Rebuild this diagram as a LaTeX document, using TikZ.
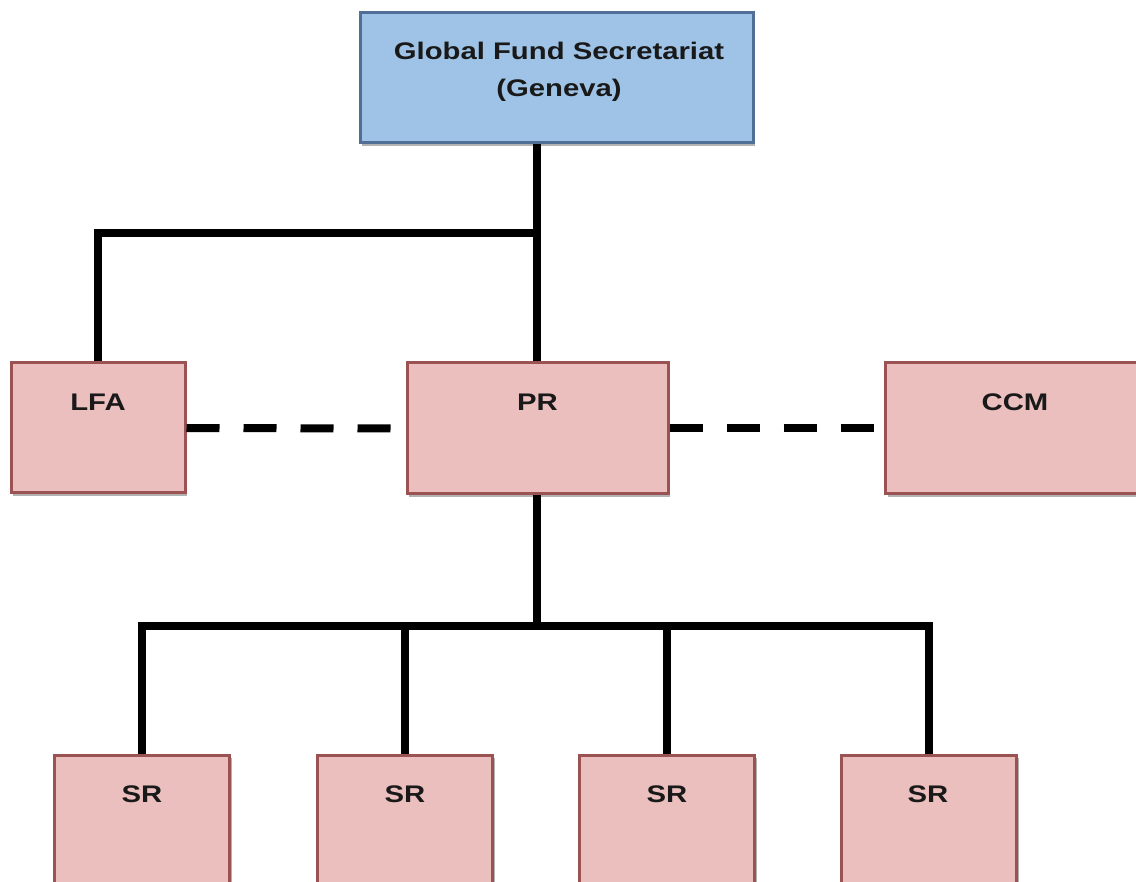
\documentclass[tikz,border=0pt]{standalone}
\usepackage{fontspec}
\setmainfont{Liberation Sans}
\usetikzlibrary{shadows}
\definecolor{pinkfill}{RGB}{236,191,191}
\definecolor{pinkdraw}{RGB}{155,82,82}
\definecolor{bluefill}{RGB}{158,195,230}
\definecolor{bluedraw}{RGB}{80,110,150}
\newcommand{\wide}[1]{\scalebox{1.22}[1]{#1}}
\tikzset{
  boxshadow/.style={drop shadow={shadow xshift=2pt,shadow yshift=-3pt,opacity=0.3,fill=black}},
  pinkbox/.style={draw=pinkdraw,fill=pinkfill,line width=3pt,rectangle,inner sep=0pt,boxshadow},
  bluebox/.style={draw=bluedraw,fill=bluefill,line width=3pt,rectangle,inner sep=0pt,boxshadow},
  lbl/.style={font=\fontsize{24}{37}\selectfont\bfseries,text=black!90,align=center,inner sep=0pt,anchor=base},
  conn/.style={line width=8pt,line join=miter,draw=black},
  dconn/.style={line width=8pt,draw=black,dash pattern=on 33pt off 24pt}
}
\begin{document}
\begin{tikzpicture}[x=1pt,y=-1pt]
\useasboundingbox (0,0) rectangle (1136,882);
\clip (0,0) rectangle (1136,882);
\fill[white] (0,0) rectangle (1136,882);
% boxes
\node[bluebox,minimum width=393pt,minimum height=130pt] (top) at (556.5,78) {};
\node[pinkbox,minimum width=174pt,minimum height=130pt] (LFA) at (98,428) {};
\node[pinkbox,minimum width=261pt,minimum height=131pt] (PR) at (537.5,428.5) {};
\node[pinkbox,minimum width=261pt,minimum height=131pt] (CCM) at (1016,428.5) {};
\node[pinkbox,minimum width=175pt,minimum height=130pt] (sr1) at (142,820) {};
\node[pinkbox,minimum width=175pt,minimum height=130pt] (sr2) at (405,820) {};
\node[pinkbox,minimum width=175pt,minimum height=130pt] (sr3) at (667,820) {};
\node[pinkbox,minimum width=175pt,minimum height=130pt] (sr4) at (929,820) {};
% labels
\node[lbl] (ttop) at (559,97) {\wide{Global Fund Secretariat}\\\wide{(Geneva)}};
\node[lbl] (tLFA) at (98,410.5) {\wide{LFA}};
\node[lbl] (tPR) at (537.5,410.5) {\wide{PR}};
\node[lbl] (tCCM) at (1015,410.5) {\wide{CCM}};
\node[lbl] (tsr1) at (142,802) {\wide{SR}};
\node[lbl] (tsr2) at (405,802) {\wide{SR}};
\node[lbl] (tsr3) at (667,802) {\wide{SR}};
\node[lbl] (tsr4) at (928,802) {\wide{SR}};
% junctions
\coordinate (j1) at (537,233);
\coordinate (j2) at (537,626);
% connectors
\draw[conn] (PR.north -| j1) -- (j1 |- top.south);
\draw[conn] (LFA.north) |- (j1);
\draw[conn] (PR.south -| j2) -- (j2);
\draw[conn] (sr1.north) |- (j2) -| (sr4.north);
\draw[conn] (sr2.north) -- (sr2.north |- j2);
\draw[conn] (sr3.north) -- (sr3.north |- j2);
\draw[dconn] (LFA.east) -- (PR.west);
\draw[dconn] (PR.east) -- (CCM.west);
\end{tikzpicture}
\end{document}
